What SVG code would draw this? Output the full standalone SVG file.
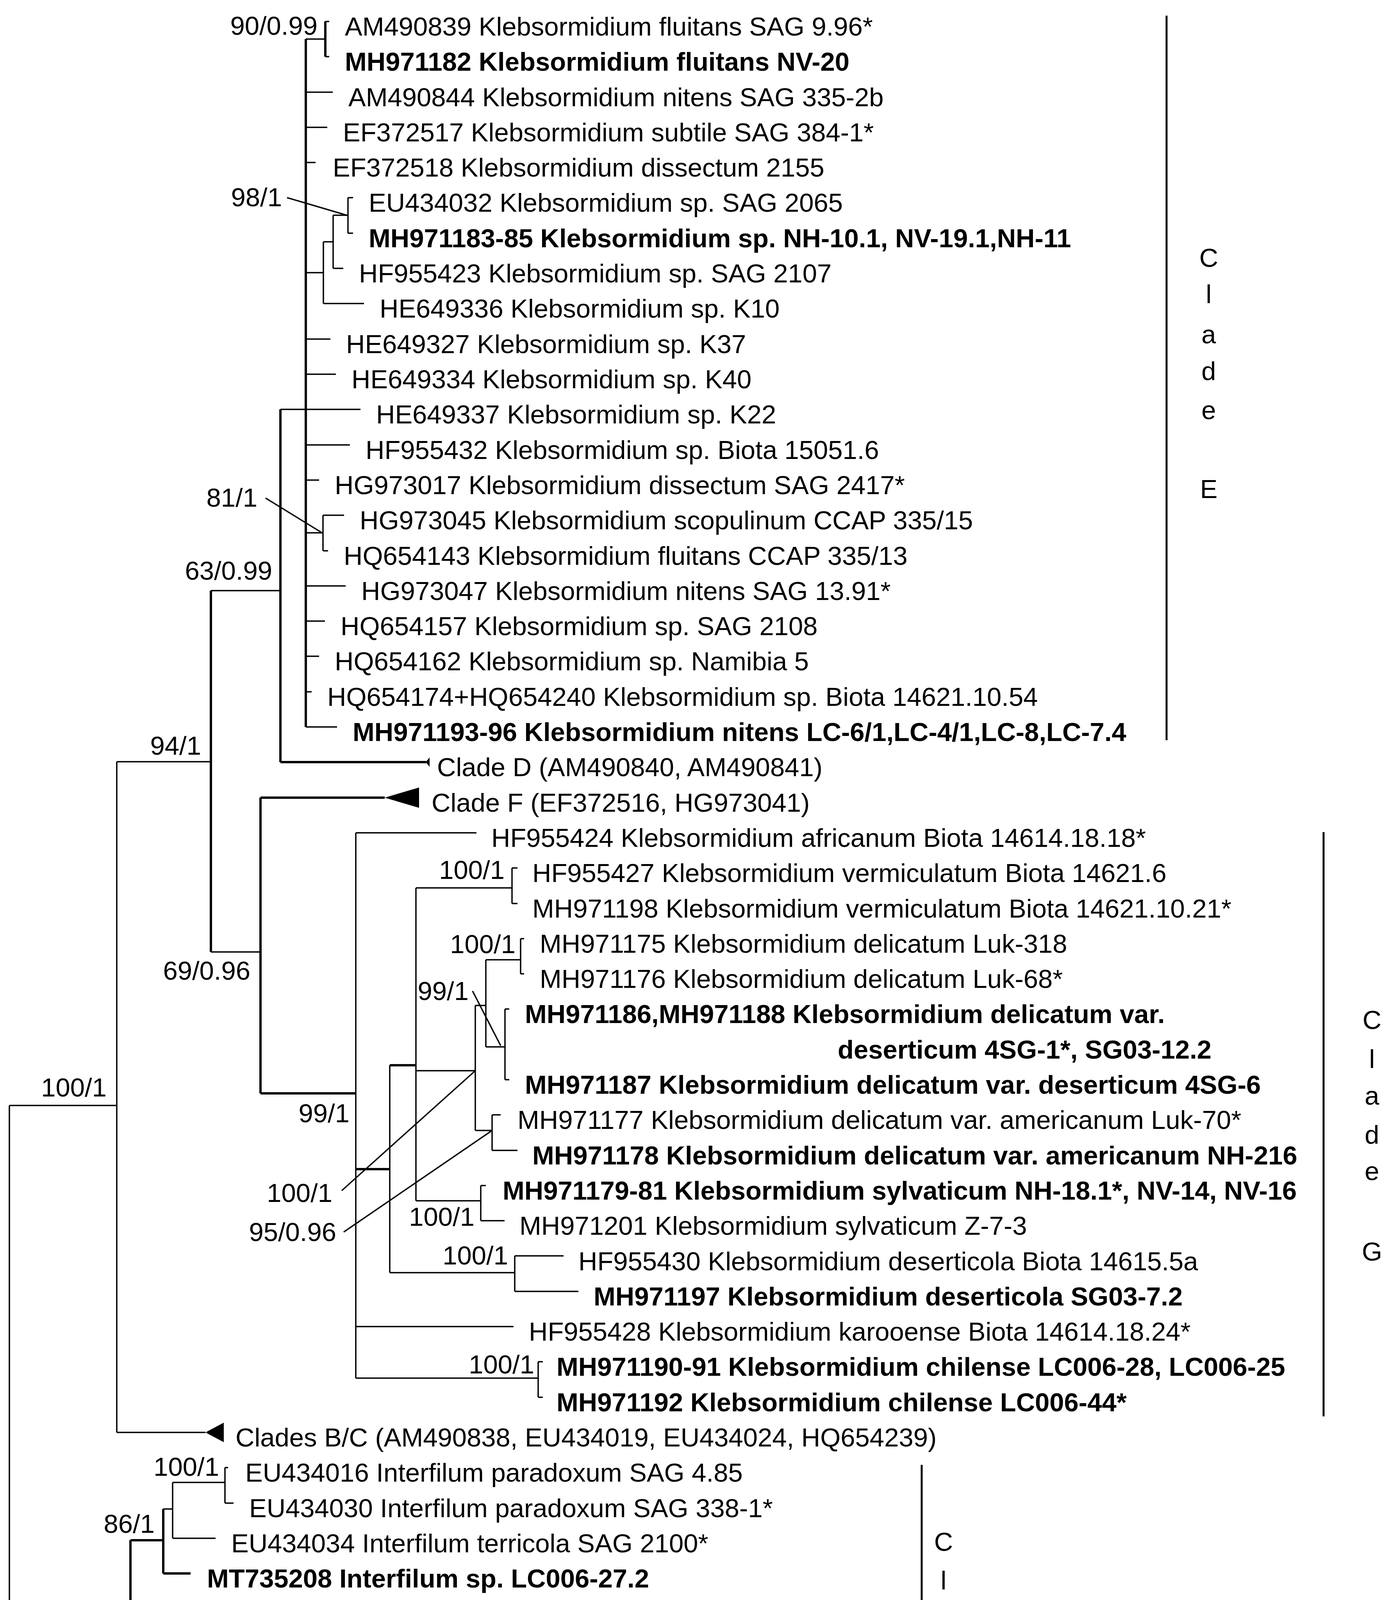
<svg xmlns="http://www.w3.org/2000/svg" width="3554" height="4871" viewBox="0 0 3554 4871">
<style>
text{font-family:"Liberation Sans",Arial,sans-serif;font-size:67px;fill:#000}
.b{font-weight:bold}
.r{text-anchor:end}
.c{text-anchor:middle}
.t{stroke:#000;stroke-width:3.5;fill:none}
.k{stroke:#000;stroke-width:6;fill:none}
.bar{stroke:#000;stroke-width:5;fill:none}
</style>
<rect width="3554" height="4871" fill="#fff"/>
<g id="connectors">
<path class="k" d="M783,100V1861M833,55V145"/>
<path class="t" d="M783,100H833M833,55H843M833,145H843M783,236H852M783,326H838M783,416H808M783,698H828M828,619V777M828,777H932M828,619H853M853,551V687M853,687H879M853,551H891M891,506V597M891,506H904M891,597H904M783,868H846M783,958H860M718,1048H923M783,1139H896M783,1229H817M783,1364H827M827,1319V1410M827,1319H881M827,1410H840M783,1500H885M783,1590H832M783,1680H817M783,1771H798M783,1861H863"/>
<path class="k" d="M718,1048V1951M718,1951H1091M540,1512V2437M667,2042V2799M667,2042H985M667,2799H911M911,2993H998M998,2727H1065"/>
<path class="t" d="M540,1512H718M540,2437H667M911,2132V3528M911,2132H1220M998,2727V3258M1065,2273V3074M1065,2273H1311M1311,2222V2313M1311,2222H1325M1311,2313H1325M1065,2741H1217M1217,2574V2894M1217,2574H1244M1244,2457V2680M1244,2457H1333M1333,2403V2493M1333,2403H1342M1333,2493H1342M1244,2680H1293M1293,2583V2764M1293,2583H1304M1293,2764H1304M1217,2894H1260M1260,2854V2945M1260,2854H1282M1260,2945H1325M1065,3074H1231M1231,3035V3125M1231,3035H1244M1231,3125H1292M998,3258H1318M1318,3215V3306M1318,3215H1443M1318,3306H1481M911,3396H1315M911,3528H1378M1378,3486V3577M1378,3486H1390M1378,3577H1390"/>
<path class="t" d="M299,1950V3667M299,1950H540M299,3667H526M24,2830H299M24,2830V4432M24,4432H300M300,4180V4660"/>
<path class="k" d="M300,4180H334M334,3943V4389M334,3943H418M418,3863V4028M418,4028H488M334,4389H399"/>
<path class="t" d="M418,3863H442M442,3795V3938M442,3795H576M576,3757V3848M576,3757H584M576,3848H598M442,3938H552M334,4209H528M528,4118V4299M528,4118H538M528,4209H540M528,4299H549M300,4524H385M385,4480V4570M385,4480H440M385,4570H475M300,4660H461M719,4753H807"/>
<path class="t" d="M735,506L888,551M680,1275L823,1363M1210,2537L1282,2677M875,3048L1217,2741M880,3154L1260,2894M271,4623L385,4524"/>
<path d="M1090,1951L1100,1939V1963Z M985,2042L1073,2016V2068Z M526,3667L573,3642V3692Z" fill="#000"/>
<path class="bar" d="M2987,40V1895M3389,2130V3626M2360,3750V4723"/>
</g>
<g id="cladeE">
<text x="883" y="91">AM490839 Klebsormidium fluitans SAG 9.96*</text>
<text class="b" x="883" y="181">MH971182 Klebsormidium fluitans NV-20</text>
<text x="892" y="272">AM490844 Klebsormidium nitens SAG 335-2b</text>
<text x="878" y="362">EF372517 Klebsormidium subtile SAG 384-1*</text>
<text x="852" y="452">EF372518 Klebsormidium dissectum 2155</text>
<text x="944" y="542">EU434032 Klebsormidium sp. SAG 2065</text>
<text class="b" x="944" y="633">MH971183-85 Klebsormidium sp. NH-10.1, NV-19.1,NH-11</text>
<text x="919" y="723">HF955423 Klebsormidium sp. SAG 2107</text>
<text x="972" y="813">HE649336 Klebsormidium sp. K10</text>
<text x="886" y="904">HE649327 Klebsormidium sp. K37</text>
<text x="900" y="994">HE649334 Klebsormidium sp. K40</text>
<text x="963" y="1084">HE649337 Klebsormidium sp. K22</text>
<text x="936" y="1175">HF955432 Klebsormidium sp. Biota 15051.6</text>
<text x="857" y="1265">HG973017 Klebsormidium dissectum SAG 2417*</text>
<text x="921" y="1355">HG973045 Klebsormidium scopulinum CCAP 335/15</text>
<text x="880" y="1446">HQ654143 Klebsormidium fluitans CCAP 335/13</text>
<text x="925" y="1536">HG973047 Klebsormidium nitens SAG 13.91*</text>
<text x="872" y="1626">HQ654157 Klebsormidium sp. SAG 2108</text>
<text x="857" y="1716">HQ654162 Klebsormidium sp. Namibia 5</text>
<text x="838" y="1807">HQ654174+HQ654240 Klebsormidium sp. Biota 14621.10.54</text>
<text class="b" x="903" y="1897">MH971193-96 Klebsormidium nitens LC-6/1,LC-4/1,LC-8,LC-7.4</text>
<text x="1119" y="1987">Clade D (AM490840, AM490841)</text>
<text x="1105" y="2078">Clade F (EF372516, HG973041)</text>
<text class="r" x="813" y="89">90/0.99</text>
<text class="r" x="722" y="528">98/1</text>
<text class="r" x="659" y="1297">81/1</text>
<text class="r" x="697" y="1484">63/0.99</text>
<text class="r" x="515" y="1932">94/1</text>
<text class="r" x="641" y="2508">69/0.96</text>
<text class="r" x="273" y="2807">100/1</text>
<text class="c" x="3095" y="683">C</text>
<text class="c" x="3095" y="776">l</text>
<text class="c" x="3095" y="879">a</text>
<text class="c" x="3095" y="973">d</text>
<text class="c" x="3095" y="1073">e</text>
<text class="c" x="3095" y="1275">E</text>
</g>
<g id="cladeG">
<text x="1258" y="2168">HF955424 Klebsormidium africanum Biota 14614.18.18*</text>
<text x="1363" y="2258">HF955427 Klebsormidium vermiculatum Biota 14621.6</text>
<text x="1363" y="2349">MH971198 Klebsormidium vermiculatum Biota 14621.10.21*</text>
<text x="1382" y="2439">MH971175 Klebsormidium delicatum Luk-318</text>
<text x="1382" y="2529">MH971176 Klebsormidium delicatum Luk-68*</text>
<text class="b" x="1344" y="2619">MH971186,MH971188 Klebsormidium delicatum var.</text>
<text class="b" x="2145" y="2710">deserticum 4SG-1*, SG03-12.2</text>
<text class="b" x="1344" y="2800">MH971187 Klebsormidium delicatum var. deserticum 4SG-6</text>
<text x="1325" y="2890">MH971177 Klebsormidium delicatum var. americanum  Luk-70*</text>
<text class="b" x="1363" y="2981">MH971178 Klebsormidium delicatum var. americanum NH-216</text>
<text class="b" x="1287" y="3071">MH971179-81 Klebsormidium sylvaticum NH-18.1*, NV-14, NV-16</text>
<text x="1330" y="3161">MH971201 Klebsormidium sylvaticum Z-7-3</text>
<text x="1481" y="3252">HF955430 Klebsormidium deserticola Biota 14615.5a</text>
<text class="b" x="1520" y="3342">MH971197 Klebsormidium deserticola SG03-7.2</text>
<text x="1354" y="3432">HF955428 Klebsormidium karooense Biota 14614.18.24*</text>
<text class="b" x="1425" y="3522">MH971190-91 Klebsormidium chilense LC006-28, LC006-25</text>
<text class="b" x="1425" y="3613">MH971192 Klebsormidium chilense LC006-44*</text>
<text x="603" y="3703">Clades B/C (AM490838, EU434019, EU434024, HQ654239)</text>
<text class="r" x="895" y="2873">99/1</text>
<text class="r" x="1292" y="2250">100/1</text>
<text class="r" x="1320" y="2440">100/1</text>
<text class="r" x="1200" y="2560">99/1</text>
<text class="r" x="851" y="3077">100/1</text>
<text class="r" x="861" y="3177">95/0.96</text>
<text class="r" x="1215" y="3138">100/1</text>
<text class="r" x="1301" y="3237">100/1</text>
<text class="r" x="1368" y="3516">100/1</text>
<text class="c" x="3513" y="2634">C</text>
<text class="c" x="3513" y="2734">l</text>
<text class="c" x="3513" y="2828">a</text>
<text class="c" x="3513" y="2928">d</text>
<text class="c" x="3513" y="3021">e</text>
<text class="c" x="3513" y="3227">G</text>
</g>
<g id="cladeA">
<text x="628" y="3793">EU434016 Interfilum paradoxum SAG 4.85</text>
<text x="638" y="3884">EU434030 Interfilum paradoxum SAG 338-1*</text>
<text x="592" y="3974">EU434034 Interfilum terricola SAG 2100*</text>
<text class="b" x="530" y="4064">MT735208 Interfilum sp. LC006-27.2</text>
<text x="577" y="4155">EU434038 Interfilum massjukiae SAG 2102*</text>
<text class="b" x="560" y="4245">MT735209 Interfilum massjukiae NH-6</text>
<text class="b" x="588" y="4335">MT735210 Interfilum massjukiae PA-1-8i2</text>
<text class="b" x="437" y="4425">MT735211 Interfilum sp. NV-12</text>
<text x="478" y="4516">EU434027 Interfilum sp. SAG 36.88</text>
<text x="515" y="4606">HQ654191+HQ654125 Interfilum sp. Luk 317</text>
<text x="504" y="4696">EU434039 Interfilum sp. SAG 2147</text>
<text class="r" x="561" y="3778">100/1</text>
<text class="r" x="396" y="3924">86/1</text>
<text class="r" x="274" y="4411">100/1</text>
<text class="r" x="255" y="4643">96/1</text>
<text class="c" x="759" y="4838">0.04</text>
<text class="c" x="2416" y="3970">C</text>
<text class="c" x="2416" y="4069">l</text>
<text class="c" x="2416" y="4168">a</text>
<text class="c" x="2416" y="4263">d</text>
<text class="c" x="2416" y="4366">e</text>
<text class="c" x="2416" y="4562">A</text>
</g>
</svg>
